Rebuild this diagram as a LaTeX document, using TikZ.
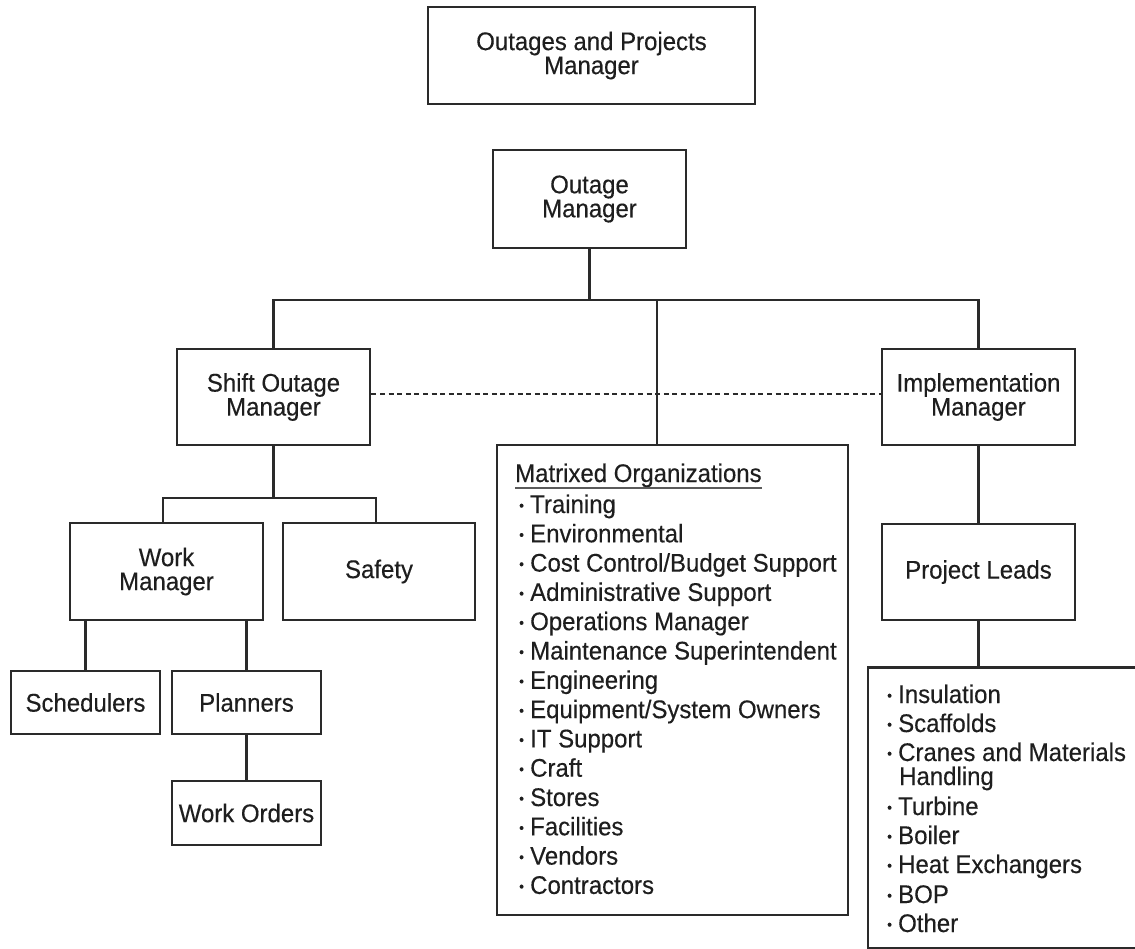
\documentclass[tikz,border=0pt]{standalone}
\usepackage{fontspec}
\setmainfont{Liberation Sans}[FakeBold=0.3,FakeStretch=0.94]
\definecolor{lc}{HTML}{2A2A2A}
\definecolor{tc}{HTML}{1E1E1E}
\definecolor{ulc}{HTML}{5A5A5A}
\newcommand\bul{\makebox[11pt][l]{\raisebox{2.5pt}{\fontsize{14.5pt}{14.5pt}\selectfont •}}}
\begin{document}
\begin{tikzpicture}[x=1pt,y=-1pt,
  box/.style={draw=lc, line width=2.9pt, rectangle, inner sep=0pt, align=center,
    font=\fontsize{25.5pt}{24pt}\selectfont, text=tc},
  conn/.style={draw=lc, line width=2.8pt},
  dconn/.style={draw=lc, line width=2.9pt, dash pattern=on 5pt off 3.6pt},
  item/.style={anchor=base west, inner sep=0pt, font=\fontsize{25.5pt}{24pt}\selectfont, text=tc}]
\useasboundingbox[fill=white] (0,0) rectangle (1135,949);

% boxes
\node[box, minimum width=327pt, minimum height=97pt] (top) at (591.5,55.5) {Outages and Projects\\Manager};
\node[box, minimum width=193pt, minimum height=98pt] (om) at (589.5,199) {Outage\\Manager};
\node[box, minimum width=193pt, minimum height=96pt] (som) at (273.5,397) {Shift Outage\\Manager};
\node[box, minimum width=193pt, minimum height=96pt] (im) at (978.5,397) {Implementation\\Manager};
\node[box, minimum width=193pt, minimum height=97pt] (wm) at (166.5,571.5) {Work\\Manager};
\node[box, minimum width=192pt, minimum height=97pt] (safety) at (379,571.5) {Safety};
\node[box, minimum width=149pt, minimum height=63pt] (sched) at (85.5,702.5) {Schedulers};
\node[box, minimum width=149pt, minimum height=63pt] (plan) at (246.5,702.5) {Planners};
\node[box, minimum width=149pt, minimum height=64pt] (wo) at (246.5,813) {Work Orders};
\node[box, minimum width=351pt, minimum height=470pt] (matrix) at (672.5,680) {};
\node[box, minimum width=193pt, minimum height=96pt] (pl) at (978.5,572) {Project Leads};
\node[box, minimum width=274pt, minimum height=281pt] (list) at (1005,808) {};

% matrix contents
\node[item] (mtitle) at (515,482) {Matrixed Organizations};
\draw[ulc, line width=1.8pt] ([yshift=-0.5pt]mtitle.south west) -- ([yshift=-0.5pt]mtitle.south east);
\foreach \t [count=\i] in {{Training},{Environmental},{Cost Control/Budget Support},{Administrative Support},{Operations Manager},{Maintenance Superintendent},{Engineering},{Equipment/System Owners},{IT Support},{Craft},{Stores},{Facilities},{Vendors},{Contractors}}
  \node[item] (m\i) at (519,{513+29.3*(\i-1)}) {\bul\t};

% project list contents
\foreach \yy/\t [count=\i] in {703/Insulation,732/Scaffolds,761/Cranes and Materials,815/Turbine,844/Boiler,873/Heat Exchangers,903/BOP,932/Other}
  \node[item] (p\i) at (887,\yy) {\bul\t};
\node[item] (p3b) at (899,785) {Handling};

% connectors
\coordinate (busL) at (273.5,300);
\coordinate (busM) at (657,300);
\coordinate (busR) at (978.5,300);
\draw[conn] (om.south) -- (om.south |- busL);
\draw[conn] (som.north) -- (busL) -- (busR) -- (im.north);
\draw[conn] (busM) -- (busM |- matrix.north);
\draw[dconn] (som.east |- 0,394) -- (im.west |- 0,394);

\coordinate (sbL) at (163,498);
\coordinate (sbR) at (376,498);
\draw[conn] (som.south) -- (som.south |- sbL);
\draw[conn] (sbL |- wm.north) -- (sbL) -- (sbR) -- (sbR |- safety.north);
\draw[conn] (sched.north) -- (sched.north |- wm.south);
\draw[conn] (plan.north) -- (plan.north |- wm.south);
\draw[conn] (plan.south) -- (wo.north);
\draw[conn] (im.south) -- (pl.north);
\draw[conn] (pl.south) -- (pl.south |- list.north);
\end{tikzpicture}
\end{document}
